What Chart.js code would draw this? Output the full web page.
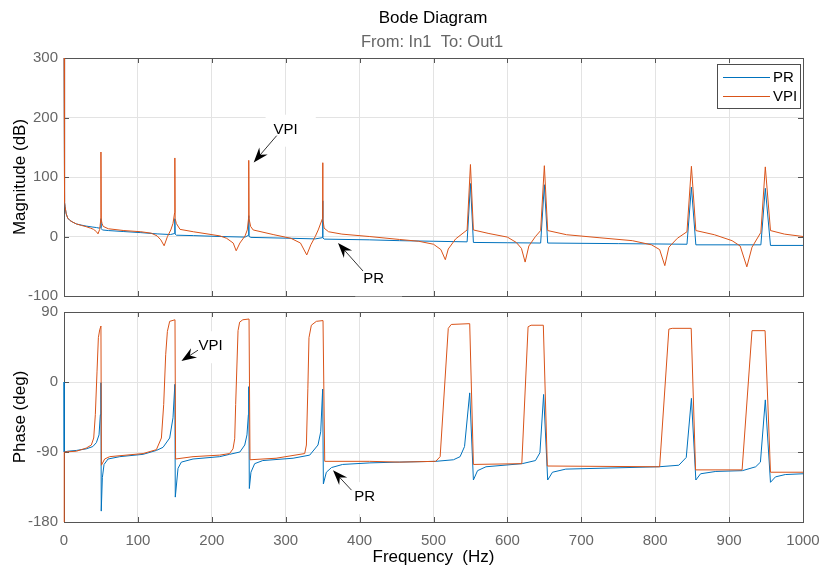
<!DOCTYPE html>
<html>
<head>
<meta charset="utf-8">
<script src="https://cdn.jsdelivr.net/npm/chart.js@4.4.1/dist/chart.umd.min.js"></script>
<style>
  html, body { margin: 0; padding: 0; background: #fff; }
  #wrap { position: relative; width: 822px; height: 573px; overflow: hidden; }
  #magChart { position: absolute; left: 0; top: 0; }
  #phaseChart { position: absolute; left: 0; top: 300px; }
</style>
</head>
<body>
<div id="wrap">
  <canvas id="magChart" width="822" height="305"></canvas>
  <canvas id="phaseChart" width="822" height="273"></canvas>
</div>
<script>
// values (frequency in Hz)
const xTicks = [0, 100, 200, 300, 400, 500, 600, 700, 800, 900, 1000];
const magTicks = [-100, 0, 100, 200, 300];
const phaseTicks = [-180, -90, 0, 90];

// PR magnitude (dB)
const prMagFreq = [
  0.1, 0.5, 1, 1.5, 3, 5, 8, 12, 17, 24,
  30, 38, 44, 48, 49.6, 50, 50.4, 52, 60, 81,
  104, 126, 144, 149.6, 150, 150.4, 152, 175, 211, 245,
  249.6, 250, 250.4, 253, 300, 340, 349.6, 350, 350.4, 352,
  413, 454, 500, 545.5, 550, 554, 600, 645, 650, 654.5,
  750, 843, 849, 855, 900, 943, 949, 956, 1000
];
const prMagDb = [
  300, 80, 58, 50, 38, 31, 27, 24, 21, 19,
  17.5, 16, 15, 14, 16, 30, 13, 11, 10, 8.3,
  6.5, 4.4, 3.3, 5, 30, 4, 2.2, 1.5, 0, -1,
  2, 35, 0, -1.5, -2.8, -4, -2, 60, -2, -4.4,
  -5.6, -7, -8, -9, 89, -10, -10.5, -11, 87, -11,
  -12, -13, 83, -14, -14, -14, 81, -15, -15
];

// VPI magnitude (dB)
const vpiMagFreq = [
  0.1, 0.5, 1, 1.5, 3, 5, 8, 12, 17, 24,
  30, 36, 40, 44, 46, 48.3, 49.7, 50, 50.4, 51.5,
  53, 60, 81, 104, 118, 126, 131, 135.5, 140, 144.5,
  147.5, 149.7, 150, 150.4, 152, 157, 175, 211, 220, 229,
  233, 238, 245, 248, 249.7, 250, 250.4, 252.5, 256, 284,
  307, 320, 328.5, 334, 340, 344, 349.7, 350, 350.4, 352,
  358, 376, 413, 454, 480, 500, 510, 516, 520, 530,
  545.5, 550, 554, 575, 600, 612, 619, 624, 629, 638,
  645, 650, 654.5, 680, 724, 769, 795, 806, 813, 818.5,
  830, 843, 849, 855, 880, 904, 915, 924, 931, 943,
  949, 956, 975, 1000
];
const vpiMagDb = [
  300, 80, 58, 50, 38, 31, 27, 24, 21, 18.5,
  16.5, 14, 12, 8, 4.4, 12, 28, 142, 28, 22,
  17, 13, 10, 8, 5.6, 1, -5.6, -15.6, 0, 11,
  22, 40, 132, 30, 22, 12, 8, 1, -3, -11,
  -24, -11, 1, 11, 30, 128, 30, 17, 11, 3,
  -3, -11, -31, -14, 0, 11, 30, 124, 30, 14,
  8, 4, 0, -5, -8, -13, -22, -39, -21, -4,
  11, 121, 11, 5, -1, -10, -20, -43, -16, 0,
  10, 119, 10, 3, -2, -7, -14, -22, -49, -18,
  -3, 8, 118, 10, 3, -7, -16, -51, -18, 7,
  117, 10, 4, 0
];

// PR phase (deg)
const prPhaseFreq = [
  0, 0.3, 5, 16.7, 30, 39, 43.8, 47.4, 49.2, 50,
  50.4, 51.9, 54.2, 59.6, 75.4, 107, 125, 134, 143, 147.5,
  150, 150.6, 154.3, 158.8, 174.6, 210.7, 224, 238, 244.6, 247.6,
  249.5, 250, 250.8, 253, 258, 269, 310, 332.5, 343.7, 347.4,
  350, 351, 355, 362, 377, 414, 452, 503, 527, 536,
  542, 549, 554, 559.6, 571, 620, 638, 644, 649, 654.5,
  661, 679, 805, 832, 842, 849, 855, 861.4, 882, 918,
  936, 942.4, 949, 956, 962.7, 976, 1000
];
const prPhaseDeg = [
  0, -90, -89, -88, -86, -83, -78, -68, -42, -1,
  -166, -123, -106, -99, -96, -93, -88, -84, -72, -46,
  -3, -148, -111, -103, -99, -96, -93, -90, -81, -68,
  -42, -6, -137, -116, -105, -101, -98, -94, -81, -64,
  -9, -131, -116, -110, -106, -104, -103, -102, -100, -96,
  -83, -14, -126, -114, -109, -105, -101, -91, -16, -126,
  -116, -112, -109, -107, -97, -21, -126, -118, -115, -114,
  -109, -103, -23, -129, -122, -119, -118
];

// VPI phase (deg)
const vpiPhaseFreq = [
  0, 0.3, 16.7, 30, 37, 40.2, 42.4, 44.7, 46.5, 48.3,
  50, 50.6, 55, 61.8, 107, 125, 131.8, 134.9, 137.6, 139.9,
  143, 150.2, 151, 174.6, 210.7, 224, 228.7, 231, 232.3, 235.5,
  237.7, 242, 250.4, 251.7, 287, 325.7, 328, 330, 331.5, 334.7,
  341.5, 350.5, 352.8, 413.7, 454, 503, 509, 520, 524, 549,
  554, 619.5, 628, 632, 648.6, 654, 806, 818.5, 823, 848.7,
  854.6, 917.6, 931, 948.7, 956, 1000
];
const vpiPhaseDeg = [
  -180, -90, -89, -85, -81, -72, -42, 14, 57, 67,
  72, -107, -99, -96, -92, -87, -72, -29, 35, 65,
  78, 80, -99, -96, -94, -92, -86, -73, -29, 66,
  77, 80, 81, -100, -98, -92, -81, -8, 57, 73,
  78, 79, -102, -102, -103, -102, -96, 69, 74, 75,
  -106, -105, 71, 73, 73, -108, -109, 68, 69, 69,
  -113, -113, 66, 66, -116, -116
];

// arrow annotations, in data units: [freq, value]
const magNotes = [
  { label: 'VPI', text: [300, 179.5], tail: [287.8, 169.5], tip: [256.7, 124.5] },
  { label: 'PR', text: [419, -72], tail: [404.6, -58], tip: [370.8, -11] }
];
const phaseNotes = [
  { label: 'VPI', text: [198.5, 46], tail: [181.3, 40.9], tip: [158.9, 27.1] },
  { label: 'PR', text: [407, -148], tail: [389, -139], tip: [364, -113.5] }
];

const FONT = '"Liberation Sans", Arial, Helvetica, sans-serif';
const blue = '#0072BD';
const orange = '#D95319';
const toPoints = (xs, ys) => xs.map((x, i) => ({ x: x, y: ys[i] }));

// frame, inward ticks, arrows, legend and titles
const decor = {
  id: 'decor',
  beforeDatasetsDraw(chart, args, opts) {
    const { ctx, chartArea: a, scales } = chart;
    ctx.save();
    ctx.strokeStyle = '#555';
    ctx.lineWidth = 1;
    ctx.strokeRect(a.left + 0.5, a.top + 0.5, a.right - a.left, a.bottom - a.top);
    ctx.beginPath();
    xTicks.forEach(v => {
      const px = Math.round(scales.x.getPixelForValue(v)) + 0.5;
      ctx.moveTo(px, a.top); ctx.lineTo(px, a.top + 5);
      ctx.moveTo(px, a.bottom); ctx.lineTo(px, a.bottom - 5);
    });
    opts.yTicks.forEach(v => {
      const py = Math.round(scales.y.getPixelForValue(v)) + 0.5;
      ctx.moveTo(a.left, py); ctx.lineTo(a.left + 5, py);
      ctx.moveTo(a.right, py); ctx.lineTo(a.right - 5, py);
    });
    ctx.stroke();
    // white boxes behind annotation text
    ctx.font = '15px ' + FONT;
    ctx.fillStyle = '#fff';
    opts.notes.forEach(n => {
      const tx = scales.x.getPixelForValue(n.text[0]);
      const ty = scales.y.getPixelForValue(n.text[1]);
      const w = ctx.measureText(n.label).width;
      ctx.fillRect(tx - w / 2 - 8, ty - 15, w + 26, 32);
    });
    ctx.restore();
  },
  afterDraw(chart, args, opts) {
    const { ctx, scales } = chart;
    ctx.save();
    ctx.font = '15px ' + FONT;
    opts.notes.forEach(n => {
      const tx = scales.x.getPixelForValue(n.text[0]);
      const ty = scales.y.getPixelForValue(n.text[1]);
      const x0 = scales.x.getPixelForValue(n.tail[0]);
      const y0 = scales.y.getPixelForValue(n.tail[1]);
      const x1 = scales.x.getPixelForValue(n.tip[0]);
      const y1 = scales.y.getPixelForValue(n.tip[1]);
      const ang = Math.atan2(y1 - y0, x1 - x0);
      ctx.strokeStyle = '#000';
      ctx.lineWidth = 0.8;
      ctx.beginPath(); ctx.moveTo(x0, y0);
      ctx.lineTo(x1 - 8 * Math.cos(ang), y1 - 8 * Math.sin(ang)); ctx.stroke();
      const len = 15, half = 5.5;
      const bx = x1 - len * Math.cos(ang), by = y1 - len * Math.sin(ang);
      const nx = -Math.sin(ang), ny = Math.cos(ang);
      ctx.fillStyle = '#000';
      ctx.beginPath();
      ctx.moveTo(x1, y1);
      ctx.lineTo(bx + half * nx, by + half * ny);
      ctx.lineTo(x1 - 10 * Math.cos(ang), y1 - 10 * Math.sin(ang));
      ctx.lineTo(bx - half * nx, by - half * ny);
      ctx.closePath(); ctx.fill();
      ctx.textAlign = 'center'; ctx.textBaseline = 'middle';
      ctx.fillText(n.label, tx, ty);
    });

    if (opts.legend) {
      const L = opts.legend;
      ctx.fillStyle = '#fff';
      ctx.fillRect(L.x, L.y, L.w, L.h);
      ctx.strokeStyle = '#4d4d4d'; ctx.lineWidth = 1;
      ctx.strokeRect(L.x + 0.5, L.y + 0.5, L.w, L.h);
      chart.data.datasets.forEach((ds, i) => {
        const y = L.y + 13 + i * 19;
        ctx.strokeStyle = ds.borderColor;
        ctx.beginPath(); ctx.moveTo(L.x + 6, y + 0.5); ctx.lineTo(L.x + 53, y + 0.5); ctx.stroke();
        ctx.fillStyle = '#000'; ctx.textAlign = 'left'; ctx.textBaseline = 'middle';
        ctx.fillText(ds.label, L.x + 56, y + 1);
      });
    }

    if (opts.titles) {
      ctx.textAlign = 'center'; ctx.textBaseline = 'middle';
      ctx.fillStyle = '#000'; ctx.font = '17px ' + FONT;
      ctx.fillText('Bode Diagram', 433, 18);
      ctx.fillStyle = '#666'; ctx.font = '16.5px ' + FONT;
      ctx.fillText('From: In1  To: Out1', 432, 42);
    }
    ctx.restore();
  }
};

// keep chart area exactly where the layout padding puts it
function noPad(s) {
  s.paddingLeft = 0; s.paddingRight = 0; s.paddingTop = 0; s.paddingBottom = 0;
}

function yScale(min, max, step, title) {
  return {
    type: 'linear', min: min, max: max,
    ticks: { stepSize: step, color: '#666', padding: 6, font: { family: FONT, size: 15 },
             callback: v => String(v) },
    grid: { color: '#e3e3e3', drawTicks: false },
    border: { display: false },
    title: { display: true, text: title, color: '#000', padding: { top: 10, bottom: 0 },
             font: { family: FONT, size: 17 } },
    afterFit: s => { s.width = 64; noPad(s); }
  };
}

function xScale(showLabels, height) {
  return {
    type: 'linear', min: 0, max: 1000,
    ticks: { display: showLabels, stepSize: 100, autoSkip: false, maxRotation: 0, color: '#666',
             padding: 10, font: { family: FONT, size: 15 }, callback: v => String(v) },
    grid: { color: '#e3e3e3', drawTicks: false },
    border: { display: false },
    title: { display: showLabels, text: 'Frequency  (Hz)', color: '#000',
             padding: { top: 0, bottom: 5 }, font: { family: FONT, size: 17 } },
    afterFit: s => { s.height = height; noPad(s); }
  };
}

function series(label, color, pts, order) {
  return { label: label, data: pts, borderColor: color, backgroundColor: color,
           borderWidth: 1, pointRadius: 0, tension: 0, fill: false, order: order, clip: false };
}

// magnitude plot
const magChart = new Chart(document.getElementById('magChart'), {
  type: 'line',
  data: { datasets: [
    series('PR', blue, toPoints(prMagFreq, prMagDb), 1),
    series('VPI', orange, toPoints(vpiMagFreq, vpiMagDb), 0)
  ] },
  options: {
    responsive: false, animation: false, events: [],
    layout: { padding: { top: 58, right: 19, bottom: 0, left: 0 } },
    scales: { x: xScale(false, 9), y: yScale(-100, 300, 100, 'Magnitude (dB)') },
    plugins: {
      legend: { display: false }, tooltip: { enabled: false },
      decor: { yTicks: magTicks, notes: magNotes, titles: true,
               legend: { x: 717, y: 64, w: 83, h: 44 } }
    }
  },
  plugins: [decor]
});

// phase plot
const phaseChart = new Chart(document.getElementById('phaseChart'), {
  type: 'line',
  data: { datasets: [
    series('PR', blue, toPoints(prPhaseFreq, prPhaseDeg), 1),
    series('VPI', orange, toPoints(vpiPhaseFreq, vpiPhaseDeg), 0)
  ] },
  options: {
    responsive: false, animation: false, events: [],
    layout: { padding: { top: 12, right: 19, bottom: 0, left: 0 } },
    scales: { x: xScale(true, 51), y: yScale(-180, 90, 90, 'Phase (deg)') },
    plugins: {
      legend: { display: false }, tooltip: { enabled: false },
      decor: { yTicks: phaseTicks, notes: phaseNotes, titles: false, legend: null }
    }
  },
  plugins: [decor]
});
</script>
</body>
</html>
